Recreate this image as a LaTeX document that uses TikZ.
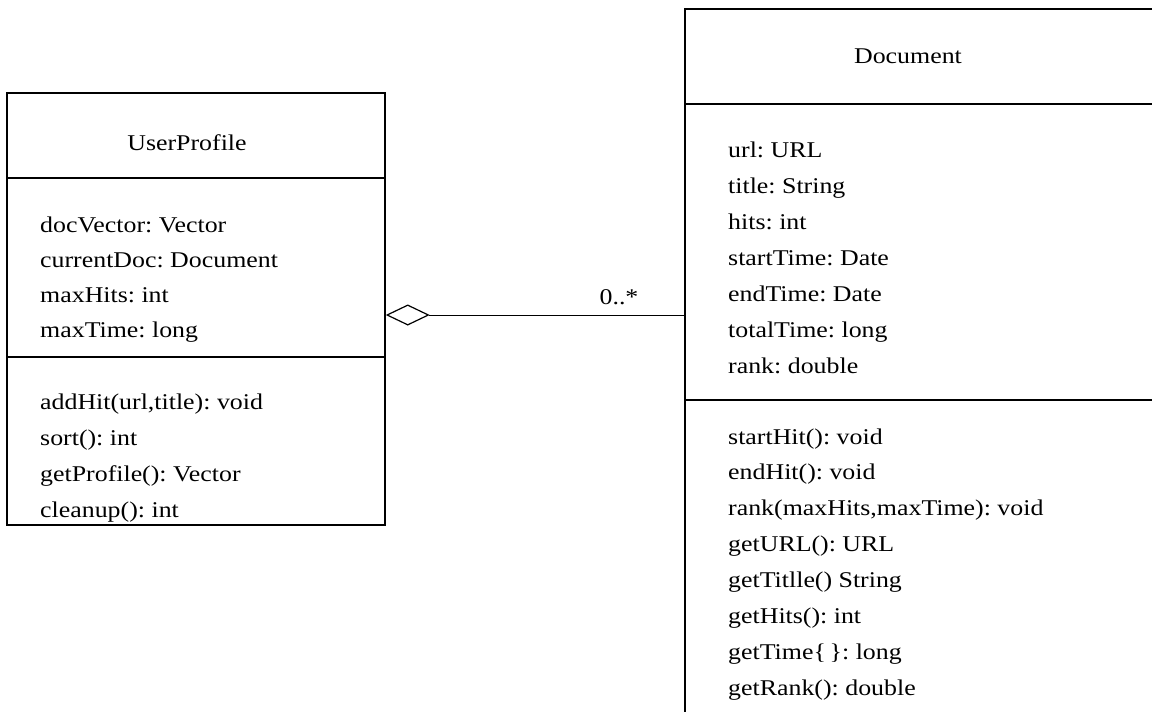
\documentclass[tikz,border=0pt]{standalone}
\usepackage{fontspec}
\setmainfont{Liberation Serif}[FakeStretch=1.15]
\usetikzlibrary{arrows.meta}
\tikzset{
  classbox/.style={draw, line width=1.5pt, rectangle, inner sep=0pt},
  divider/.style={line width=1.4pt},
  thickdivider/.style={line width=2.3pt},
  member/.style={anchor=base west, inner sep=0pt, font=\fontsize{22.5}{36}\selectfont\frenchspacing},
  title/.style={anchor=base, inner sep=0pt, font=\fontsize{22.5}{36}\selectfont\frenchspacing},
  aggregation/.style={line width=1pt, {Diamond[open,length=44pt,width=21pt,line width=1.2pt]}-},
}
\begin{document}
\begin{tikzpicture}[x=1pt,y=-1pt]
\useasboundingbox (0,0) rectangle (1152,712);
\clip (0,0) rectangle (1152,712);
\fill[white] (0,0) rectangle (1152,712);

% UserProfile class
\node[classbox, minimum width=378pt, minimum height=432pt] (up) at (196,309) {};
\draw[divider] (up.west |- 0,178) -- (up.east |- 0,178);
\draw[thickdivider] (up.west |- 0,357) -- (up.east |- 0,357);
\node[title] (upname) at (187,150) {UserProfile};
\foreach \t [count=\i] in {docVector: Vector, currentDoc: Document, maxHits: int, maxTime: long}
  \node[member] (upa\i) at (40,{232+35*(\i-1)}) {\t};
\foreach \t [count=\i] in {{addHit(url,title): void}, sort(): int, getProfile(): Vector, cleanup(): int}
  \node[member] (upm\i) at (40,{409+36*(\i-1)}) {\t};

% Document class (cropped at right and bottom)
\node[classbox, minimum width=485pt, minimum height=731pt] (doc) at (927.5,374.5) {};
\draw[divider] (doc.west |- 0,104) -- (doc.east |- 0,104);
\draw[divider] (doc.west |- 0,400) -- (doc.east |- 0,400);
\node[title] (docname) at (908,63) {Document};
\foreach \t [count=\i] in {url: URL, title: String, hits: int, startTime: Date, endTime: Date, totalTime: long, rank: double}
  \node[member] (doca\i) at (728,{157+36*(\i-1)}) {\t};
\foreach \t [count=\i] in {startHit(): void, endHit(): void, {rank(maxHits,maxTime): void}, getURL(): URL, getTitlle() String, getHits(): int, getTime\{\,\}: long, getRank(): double}
  \node[member] (docm\i) at (728,{444+35.9*(\i-1)}) {\t};

% Aggregation
\coordinate (agg) at (0,315);
\draw[aggregation] (up.east |- agg) -- (doc.west |- agg);
\node[title] (mult) at (619,304) {0..*};
\end{tikzpicture}
\end{document}
